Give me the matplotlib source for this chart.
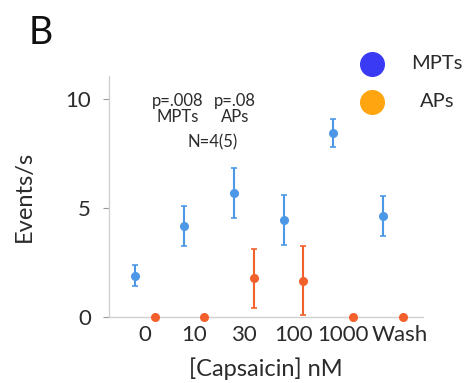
import matplotlib
matplotlib.use("Agg")
import matplotlib.pyplot as plt
import matplotlib.transforms as mtransforms
from matplotlib.lines import Line2D
import numpy as np

plt.rcParams['font.family'] = ['Lato', 'DejaVu Sans']

# data
categories = ['0', '10', '30', '100', '1000', 'Wash']
mpt_mean = [1.9, 4.17, 5.67, 4.45, 8.45, 4.63]
mpt_err = [0.5, 0.92, 1.14, 1.16, 0.65, 0.91]
ap_mean = [0.0, 0.0, 1.77, 1.67, 0.0, 0.0]
ap_err = [0.0, 0.0, 1.35, 1.6, 0.0, 0.0]

mpt_color = '#4d98e6'
ap_color = '#f2602c'
text_color = '#2b2b2b'

fig = plt.figure(figsize=(4.65, 3.83), dpi=100)
ax = fig.add_axes([0.2344, 0.1723, 0.6753, 0.6293])

x = np.arange(len(categories))
ax.errorbar(x - 0.2, mpt_mean, yerr=mpt_err, fmt='o', color=mpt_color,
            markersize=5.5, elinewidth=1.5, capsize=2.5, capthick=1.2, clip_on=False, zorder=3)
ax.errorbar(x + 0.2, ap_mean, yerr=ap_err, fmt='o', color=ap_color,
            markersize=5.5, elinewidth=1.5, capsize=2.5, capthick=1.2, clip_on=False, zorder=3)

ax.set_xlim(-0.72, 5.61)
ax.set_ylim(0, 11.05)
ax.set_yticks([0, 5, 10])
ax.set_xticks(x)
ax.set_xticklabels(categories)

for side in ['top', 'right']:
    ax.spines[side].set_visible(False)
for side in ['left', 'bottom']:
    ax.spines[side].set_color('#d0d0d0')
    ax.spines[side].set_linewidth(1.0)

ax.tick_params(axis='y', length=4, color='#999999', pad=9, labelsize=16, labelcolor=text_color)
ax.tick_params(axis='x', length=0, pad=6, labelsize=16, labelcolor=text_color)

# the last label sits a little to the right in the original
shift = mtransforms.ScaledTranslation(5 / 72, 0, fig.dpi_scale_trans)
last = ax.get_xticklabels()[-1]
last.set_transform(last.get_transform() + shift)

ax.set_ylabel('Events/s', fontsize=17, color=text_color, labelpad=22)
ax.set_xlabel('[Capsaicin] nM', fontsize=17, color=text_color, labelpad=9)

# annotations
ax.text(0.66, 9.55, 'p=.008\nMPTs', ha='center', va='center', fontsize=12,
        color=text_color, linespacing=1.0)
ax.text(1.82, 9.55, 'p=.08\nAPs', ha='center', va='center', fontsize=12,
        color=text_color, linespacing=1.0)
ax.text(1.36, 8.0, 'N=4(5)', ha='center', va='center', fontsize=12, color=text_color)

# panel letter
fig.text(0.088, 0.915, 'B', fontsize=27, ha='center', va='center', color='#111111')

# legend drawn at figure level
legend_items = [('MPTs', '#3a3af5', 0.833), ('APs', '#ffa510', 0.734)]
for label, color, y in legend_items:
    fig.add_artist(Line2D([0.80], [y], marker='o', markersize=17, color=color,
                          linestyle='none', transform=fig.transFigure))
    fig.text(0.94, y, label, fontsize=14.5, ha='center', va='center', color=text_color)

fig.savefig('out.png', dpi=100)
